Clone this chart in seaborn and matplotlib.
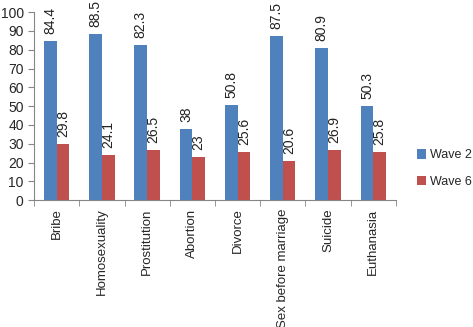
import matplotlib
matplotlib.use("Agg")
import matplotlib.pyplot as plt
import numpy as np
import pandas as pd
import seaborn as sns

categories = ["Bribe", "Homosexuality", "Prostitution", "Abortion", "Divorce",
              "Sex before marriage", "Suicide", "Euthanasia"]
wave2 = [84.4, 88.5, 82.3, 38, 50.8, 87.5, 80.9, 50.3]
wave6 = [29.8, 24.1, 26.5, 23, 25.6, 20.6, 26.9, 25.8]
series = ["Wave 2", "Wave 6"]
colors = ["#4F81BD", "#C0504D"]

df = pd.DataFrame({
    "cat": categories * 2,
    "val": wave2 + wave6,
    "wave": [series[0]] * len(categories) + [series[1]] * len(categories),
})

sns.set_style("white")
plt.rcParams["font.family"] = ["Liberation Sans", "DejaVu Sans"]

fig = plt.figure(figsize=(4.73, 3.27), dpi=100)
ax = fig.add_axes([0.072, 0.388, 0.765, 0.575])

sns.barplot(data=df, x="cat", y="val", hue="wave", palette=colors,
            width=0.56, ax=ax, saturation=1, edgecolor="none")

for cont in ax.containers:
    ax.bar_label(cont, labels=[f"{v:g}" for v in cont.datavalues],
                 rotation=90, padding=5, fontsize=10, color="#222222")

ax.set_ylim(0, 100)
ax.set_yticks(range(0, 101, 10))
ax.set_xlim(-0.5, len(categories) - 0.5)
ax.set_xlabel("")
ax.set_ylabel("")
ax.set_xticks(range(len(categories)))
ax.set_xticklabels(categories, rotation=90, fontsize=9.5)
ax.set_xticks(np.arange(-0.5, len(categories), 1), minor=True)
ax.tick_params(axis="x", which="major", length=0, pad=6)
ax.tick_params(axis="x", which="minor", length=4, color="#868686", direction="out", bottom=True)
ax.tick_params(axis="y", length=4, color="#868686", direction="out", left=True, labelsize=10)

for side in ["top", "right"]:
    ax.spines[side].set_visible(False)
for side in ["left", "bottom"]:
    ax.spines[side].set_color("#868686")
    ax.spines[side].set_linewidth(0.8)

ax.legend(loc="center left", bbox_to_anchor=(1.058, 0.168), frameon=False,
          fontsize=9, handlelength=0.75, handleheight=0.75, labelspacing=1.16,
          handletextpad=0.3, borderaxespad=0, borderpad=0)

fig.savefig("out.png", dpi=100)
